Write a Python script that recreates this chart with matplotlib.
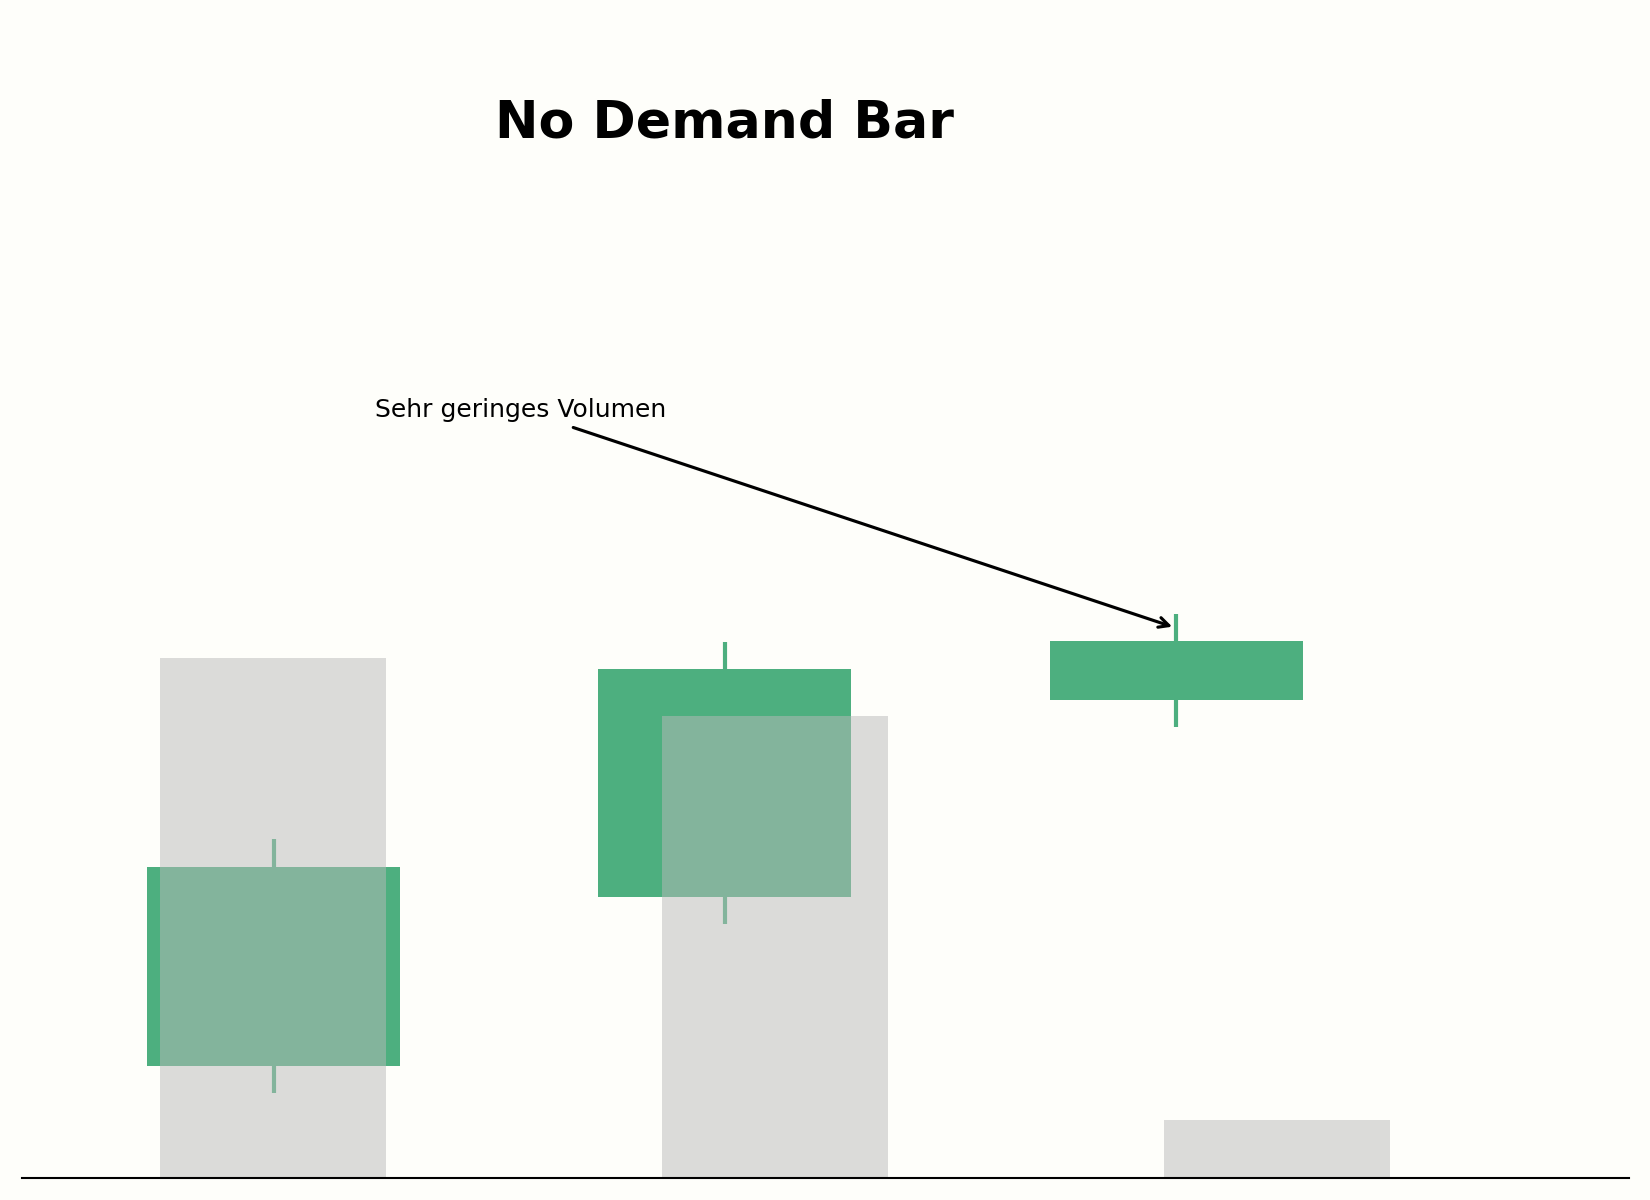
import matplotlib
matplotlib.use("Agg")
from matplotlib import pyplot as plt
import numpy

# candle data (3 bars, all up bars)
bars = [0, 1, 2]
opens = [11.2, 28.1, 47.8]
closes = [31.1, 50.9, 53.7]
highs = [33.9, 53.6, 56.4]
lows = [8.5, 25.4, 45.1]
volumes = [900, 800, 100]

title = "No Demand Bar"
note = "Sehr geringes Volumen"
note_xy = (2, 55.0)
note_text_xy = (0.225, 76.1)

green = "#4daf7f"
vol_color = "#bababa"
bg = "#fefefa"

fig = plt.figure(figsize=(11, 8), dpi=150, facecolor=bg)

# price axes
ax = fig.add_axes([0.029, 0.0183, 0.8206, 0.8567])
ax.set_facecolor(bg)
x = numpy.array(bars)
body = numpy.array(closes) - numpy.array(opens)
ax.vlines(x, lows, highs, color=green, linewidth=2, zorder=1)
ax.bar(x, body, 0.56, bottom=opens, color=green, zorder=2)
ax.set_xlim(-0.5, 2.5)
ax.set_ylim(0, 102.8)
for s in ax.spines.values():
    s.set_visible(False)
ax.set_xticks([])
ax.set_yticks([])
ax.set_title(title, fontsize=25, fontweight="bold")
ax.annotate(note, xy=note_xy, xytext=note_text_xy, fontsize=12,
            arrowprops=dict(arrowstyle="->", color="black", lw=1.5))

# volume axes on top, transparent
ax2 = fig.add_axes([0.01333, 0.0183, 0.9738, 0.8567])
ax2.patch.set_visible(False)
ax2.bar(x, volumes, 0.45, color=vol_color, alpha=0.5)
ax2.set_xlim(-0.5, 2.7)
ax2.set_ylim(0, 1780)
for name in ["top", "left", "right"]:
    ax2.spines[name].set_visible(False)
ax2.spines["bottom"].set_linewidth(1.0)
ax2.spines["bottom"].set_color("black")
ax2.set_xticks([])
ax2.set_yticks([])

fig.savefig("out.png", dpi=150, facecolor=bg)
